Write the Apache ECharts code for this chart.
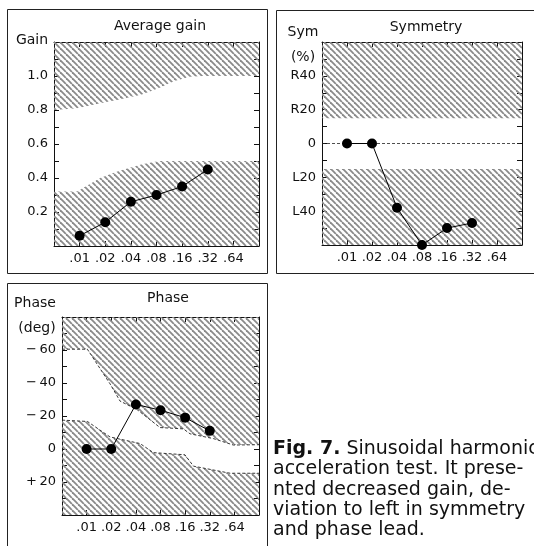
<!DOCTYPE html>
<html>
<head>
<meta charset="utf-8">
<script src="https://cdn.jsdelivr.net/npm/echarts@6/dist/echarts.min.js"></script>
<style>
  html, body { margin: 0; padding: 0; background: #fff; }
  #chart { width: 534px; height: 546px; }
</style>
</head>
<body>
<div id="chart"></div>
<script>
  // frequency labels (Hz), points sit at x = 1..6 on a 0..8 scale
  const freqLabels = ['.01', '.02', '.04', '.08', '.16', '.32', '.64']

  const gainValues = [0.06, 0.14, 0.26, 0.30, 0.35, 0.45]
  const symValues = [0, 0, -38, -60, -50, -47]
  const phaseValues = [0, 0, -27, -23.5, -19, -11]

  // normal range limits, [x, value]
  const gainUpper = [[0, 0.80], [0.9, 0.81], [1.8, 0.84], [2.5, 0.86], [3.4, 0.89], [4.1, 0.93], [4.7, 0.97], [5.3, 0.995], [5.8, 1.0], [8, 1.0]]
  const gainLower = [[0, 0.32], [0.9, 0.32], [1.8, 0.40], [2.5, 0.44], [3.4, 0.48], [4.1, 0.50], [8, 0.50]]
  const symUpper = [[0, 15], [8, 15]]
  const symLower = [[0, -15], [8, -15]]
  const phaseUpper = [[0, -60.5], [1.03, -60.5], [1.95, -39.5], [2.36, -29], [3.04, -24], [3.98, -13], [4.93, -12.2], [5.2, -9.2], [6.15, -6.3], [6.96, -2.4], [8, -2.6]]
  const phaseLower = [[0, -17.5], [1.03, -16.7], [1.95, -7.3], [3.17, -3.3], [3.71, 2.2], [4.99, 3.5], [5.34, 10.4], [6.83, 14.7], [8, 14.7]]

  const gainTicks = [0.2, 0.4, 0.6, 0.8, 1.0]
  const gainTickLabels = ['0.2', '0.4', '0.6', '0.8', '1.0']
  const symTicks = [40, 20, 0, -20, -40]
  const symTickLabels = ['R40', 'R20', '0', 'L20', 'L40']
  const phaseTicks = [-60, -40, -20, 0, 20]
  const phaseTickLabels = ['\u2212\u200960', '\u2212\u200940', '\u2212\u200920', '0', '+\u200920']

  const FONT = '"DejaVu Sans", sans-serif'

  // diagonal hatch pattern
  function makeHatch () {
    const c = document.createElement('canvas')
    c.width = 6
    c.height = 6
    const ctx = c.getContext('2d')
    ctx.strokeStyle = '#8a8a8a'
    ctx.lineWidth = 1.8
    for (let k = -1; k <= 1; k++) {
      ctx.beginPath()
      ctx.moveTo(k * 6, 0)
      ctx.lineTo(k * 6 + 6, 6)
      ctx.stroke()
    }
    return { image: c, repeat: 'repeat' }
  }
  const hatch = makeHatch()

  function labelFrom (ticks, labels) {
    return function (v) {
      const i = ticks.findIndex(t => Math.abs(t - v) < 1e-6)
      return i >= 0 ? labels[i] : ''
    }
  }

  const grids = [
    { left: 54, top: 42, width: 205, height: 204 },
    { left: 322, top: 42, width: 200, height: 203 },
    { left: 62, top: 317, width: 197, height: 198 }
  ]

  const xAxis = []
  const yAxis = []
  const yConf = [
    { min: 0, max: 1.2, interval: 0.1, inverse: false, fmt: labelFrom(gainTicks, gainTickLabels) },
    { min: -60, max: 60, interval: 10, inverse: false, fmt: labelFrom(symTicks, symTickLabels) },
    { min: -80, max: 40, interval: 10, inverse: true, fmt: labelFrom(phaseTicks, phaseTickLabels) }
  ]
  const axisLine = { show: true, onZero: false, lineStyle: { color: '#111', width: 1 } }
  const tick = { show: true, inside: true, length: 5, lineStyle: { color: '#111', width: 1 } }

  grids.forEach((g, i) => {
    xAxis.push({
      type: 'value', gridIndex: i, position: 'bottom', min: 0, max: 8, interval: 1,
      axisLine: axisLine, axisTick: tick, splitLine: { show: false },
      axisLabel: {
        color: '#111', fontFamily: FONT, fontSize: 13, margin: 6, showMinLabel: true, showMaxLabel: true,
        formatter: v => freqLabels[v - 1] || ''
      }
    })
    xAxis.push({
      type: 'value', gridIndex: i, position: 'top', min: 0, max: 8, interval: 1,
      axisLine: axisLine, axisTick: tick, splitLine: { show: false }, axisLabel: { show: false }
    })
    const c = yConf[i]
    yAxis.push({
      type: 'value', gridIndex: i, position: 'left', min: c.min, max: c.max, interval: c.interval, inverse: c.inverse,
      axisLine: axisLine, axisTick: tick, splitLine: { show: false },
      axisLabel: { color: '#111', fontFamily: FONT, fontSize: 13, margin: 6, formatter: c.fmt }
    })
    yAxis.push({
      type: 'value', gridIndex: i, position: 'right', min: c.min, max: c.max, interval: c.interval, inverse: c.inverse,
      axisLine: axisLine, axisTick: tick, splitLine: { show: false }, axisLabel: { show: false }
    })
  })

  function band (idx, data, origin, dashed) {
    return {
      type: 'line', xAxisIndex: idx * 2, yAxisIndex: idx * 2, data: data,
      showSymbol: false, silent: true, z: 1,
      lineStyle: dashed ? { color: '#222', width: 0.9, type: [3, 2] } : { width: 0 },
      areaStyle: { color: hatch, opacity: 1, origin: origin }
    }
  }

  function points (idx, values, extra) {
    return Object.assign({
      type: 'line', xAxisIndex: idx * 2, yAxisIndex: idx * 2,
      data: values.map((v, i) => [i + 1, v]),
      symbol: 'circle', symbolSize: 10, z: 5,
      itemStyle: { color: '#000' },
      lineStyle: { color: '#000', width: 1 }
    }, extra || {})
  }

  const series = [
    band(0, gainUpper, 'end', false),
    band(0, gainLower, 'start', false),
    band(1, symUpper, 'end', false),
    band(1, symLower, 'start', false),
    band(2, phaseUpper, 'start', true),
    band(2, phaseLower, 'end', true),
    points(0, gainValues),
    points(1, symValues, {
      markLine: {
        silent: true, symbol: 'none', label: { show: false },
        lineStyle: { color: '#222', width: 0.8, type: [3, 2] },
        data: [{ yAxis: 0 }]
      }
    }),
    points(2, phaseValues)
  ]

  function txt (text, x, y, size, align) {
    return {
      type: 'text', x: x, y: y,
      style: { text: text, font: size + 'px ' + FONT, fill: '#111', textAlign: align || 'center', textVerticalAlign: 'middle' }
    }
  }

  const graphic = [
    { type: 'rect', shape: { x: 7.5, y: 9.5, width: 260, height: 264 }, style: { fill: 'none', stroke: '#222', lineWidth: 1 } },
    { type: 'rect', shape: { x: 276.5, y: 10.5, width: 300, height: 263 }, style: { fill: 'none', stroke: '#222', lineWidth: 1 } },
    { type: 'rect', shape: { x: 7.5, y: 283.5, width: 260, height: 300 }, style: { fill: 'none', stroke: '#222', lineWidth: 1 } },
    txt('Average gain', 160, 26, 14),
    txt('Gain', 32, 40, 14),
    txt('Symmetry', 426, 27, 14),
    txt('Sym', 303, 32, 14),
    txt('(%)', 303, 57, 14),
    txt('Phase', 168, 298, 14),
    txt('Phase', 35, 303, 14),
    txt('(deg)', 37, 328, 14),
    {
      type: 'text', x: 273, y: 439,
      style: {
        text: '{b|Fig. 7.} Sinusoidal harmonic\nacceleration test. It prese-\nnted decreased gain, de-\nviation to left in symmetry\nand phase lead.',
        font: '19px ' + FONT, fill: '#111', lineHeight: 20.3,
        rich: { b: { fontWeight: 'bold', fontSize: 19, fontFamily: FONT, lineHeight: 20.3 } }
      }
    }
  ]

  const chart = echarts.init(document.getElementById('chart'))
  chart.setOption({
    animation: false,
    backgroundColor: '#fff',
    grid: grids,
    xAxis: xAxis,
    yAxis: yAxis,
    series: series,
    graphic: graphic
  })
</script>
</body>
</html>
